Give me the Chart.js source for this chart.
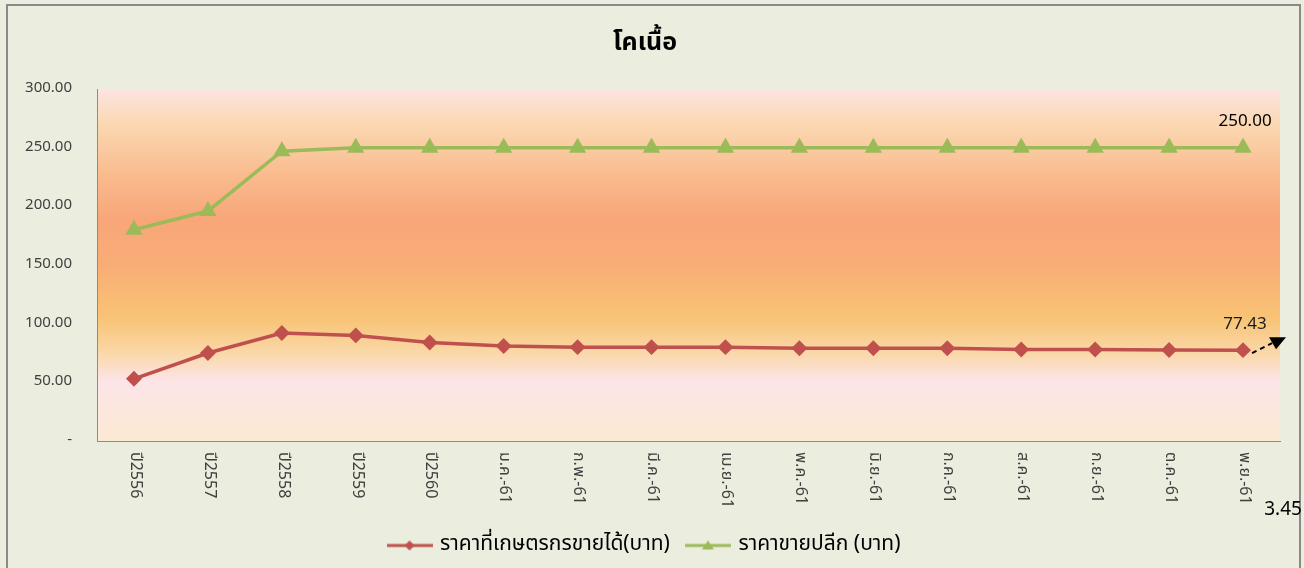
<!DOCTYPE html>
<html><head><meta charset="utf-8">
<script src="https://cdn.jsdelivr.net/npm/chart.js@4.4.1/dist/chart.umd.min.js"></script>
<style>html,body{margin:0;padding:0;background:#EBEDDE;overflow:hidden}</style>
</head><body>
<canvas id="c" width="1304" height="568"></canvas>
<script>
const titleText = 'โคเนื้อ';
const categories = ['ปี2556','ปี2557','ปี2558','ปี2559','ปี2560','ม.ค.-61','ก.พ.-61','มี.ค.-61','เม.ย.-61','พ.ค.-61','มิ.ย.-61','ก.ค.-61','ส.ค.-61','ก.ย.-61','ต.ค.-61','พ.ย.-61'];
const farmPrice = [53,75,92,90,84,81,80,80,80,79,79,79,78,78,77.5,77.43];
const retailPrice = [180,196,247,250,250,250,250,250,250,250,250,250,250,250,250,250];
const seriesNames = ['ราคาที่เกษตรกรขายได้(บาท)','ราคาขายปลีก (บาท)'];
const yMin = 0, yMax = 300, yStep = 50;
const sideNote = '3.45';

const FONT = "Tahoma, 'Noto Sans Thai', 'Noto Sans', 'DejaVu Sans', sans-serif";
const RED = '#C0504D', GREEN = '#9BBB59';
const PLOT_BOTTOM = 441, PAD_BOTTOM = 2;

function legendIcon(color, shape){
  const c = document.createElement('canvas');
  c.width = 46; c.height = 14;
  const g = c.getContext('2d');
  g.strokeStyle = color; g.lineWidth = 3;
  g.beginPath(); g.moveTo(0,7); g.lineTo(46,7); g.stroke();
  g.fillStyle = color; g.beginPath();
  if (shape === 'diamond'){ g.moveTo(23,2); g.lineTo(28,7); g.lineTo(23,12); g.lineTo(18,7); }
  else { g.moveTo(23,2); g.lineTo(29,11); g.lineTo(17,11); }
  g.closePath(); g.fill();
  return c;
}
const icons = [legendIcon(RED,'diamond'), legendIcon(GREEN,'triangle')];

const bgPlugin = {
  id:'bg',
  beforeDraw(chart){
    const {ctx, chartArea:a} = chart;
    ctx.save();
    ctx.fillStyle = '#EBEDDE';
    ctx.fillRect(0,0,chart.width,chart.height);
    const gr = ctx.createLinearGradient(0,a.top,0,a.bottom);
    gr.addColorStop(0,'#FDE3E3');
    gr.addColorStop(0.1,'#FBD8B2');
    gr.addColorStop(0.25,'#F9BA8C');
    gr.addColorStop(0.37,'#F8A679');
    gr.addColorStop(0.5,'#F8AD75');
    gr.addColorStop(0.65,'#F8C375');
    gr.addColorStop(0.75,'#FAD8A8');
    gr.addColorStop(0.83,'#FCE4E8');
    gr.addColorStop(1,'#FBEAD3');
    ctx.fillStyle = gr;
    ctx.fillRect(a.left,a.top,a.right-a.left,a.bottom-a.top);
    ctx.strokeStyle = '#8A8A8A'; ctx.lineWidth = 2;
    ctx.strokeRect(7,5,1293,600);
    ctx.restore();
  }
};

const xLabelPlugin = {
  id:'xlabels',
  afterDraw(chart){
    const {ctx} = chart; const xs = chart.scales.x;
    ctx.save();
    ctx.fillStyle = '#404040';
    ctx.font = "16px " + FONT;
    ctx.textAlign = 'left'; ctx.textBaseline = 'middle';
    categories.forEach((lab,i)=>{
      const x = xs.getPixelForTick(i);
      ctx.save(); ctx.translate(x, xs.top + 11); ctx.rotate(Math.PI/2);
      ctx.fillText(lab,0,0); ctx.restore();
    });
    ctx.restore();
  }
};

const lastLabelPlugin = {
  id:'lastlabels',
  afterDatasetsDraw(chart){
    const {ctx} = chart;
    ctx.save();
    ctx.fillStyle = '#1a1a1a';
    ctx.font = "17px " + FONT;
    ctx.textAlign = 'center'; ctx.textBaseline = 'middle';
    chart.data.datasets.forEach((ds,di)=>{
      const meta = chart.getDatasetMeta(di);
      const last = ds.data.length-1;
      const p = meta.data[last];
      ctx.fillText(ds.data[last].toFixed(2), p.x+2, p.y-25);
      if (di === 0){
        ctx.strokeStyle = '#000'; ctx.lineWidth = 2; ctx.setLineDash([5,4]);
        ctx.beginPath(); ctx.moveTo(p.x+9,p.y+3); ctx.lineTo(p.x+29,p.y-7); ctx.stroke();
        ctx.setLineDash([]);
        ctx.fillStyle = '#000';
        ctx.beginPath(); ctx.moveTo(p.x+26,p.y-13); ctx.lineTo(p.x+43,p.y-13); ctx.lineTo(p.x+33,p.y-1); ctx.closePath(); ctx.fill();
      }
    });
    const xs = chart.scales.x;
    ctx.fillStyle = '#000';
    ctx.font = "19px " + FONT;
    ctx.fillText(sideNote, xs.getPixelForTick(categories.length-1)+40, xs.top + 70);
    ctx.restore();
  }
};

new Chart(document.getElementById('c'), {
  type:'line',
  data:{
    labels: categories,
    datasets:[
      {label: seriesNames[0], data: farmPrice, borderColor: RED, backgroundColor: RED, borderWidth: 3.5,
       pointStyle:'rectRot', pointRadius:5.5, pointHoverRadius:5.5, tension:0},
      {label: seriesNames[1], data: retailPrice, borderColor: GREEN, backgroundColor: GREEN, borderWidth: 3.5,
       pointStyle:'triangle', pointRadius:6.5, pointHoverRadius:6.5, tension:0}
    ]
  },
  options:{
    responsive:false, animation:false, devicePixelRatio:1,
    layout:{padding:{left:10,right:24,top:0,bottom:PAD_BOTTOM}},
    plugins:{
      title:{display:true, text:titleText, color:'#000', font:{family:FONT,size:25,weight:'bold'}, padding:{top:30,bottom:29}},
      legend:{position:'bottom',
        labels:{usePointStyle:true, pointStyleWidth:40, color:'#000', font:{family:FONT,size:21}, padding:18,
          generateLabels(chart){
            const items = Chart.defaults.plugins.legend.labels.generateLabels(chart);
            items.forEach((it,i)=>{ it.pointStyle = icons[i]; });
            return items;
          }}},
      tooltip:{enabled:false}
    },
    scales:{
      x:{offset:true, grid:{display:false, drawTicks:false}, border:{display:true,color:'#8C8C8C',width:1},
         ticks:{display:false},
         afterFit(s){ s.height = Math.max(10, s.chart.height - PLOT_BOTTOM - (s.chart.legend ? s.chart.legend.height : 40) - PAD_BOTTOM); }},
      y:{min:yMin, max:yMax, grid:{display:false, drawTicks:false}, border:{display:true,color:'#8C8C8C',width:1},
         ticks:{stepSize:yStep, padding:25, color:'#404040', font:{family:FONT,size:15},
           callback:v=> v===0 ? '-' : Number(v).toFixed(2)},
         afterFit(s){ s.width = 87; }}
    }
  },
  plugins:[bgPlugin, xLabelPlugin, lastLabelPlugin]
});
</script>
</body></html>
